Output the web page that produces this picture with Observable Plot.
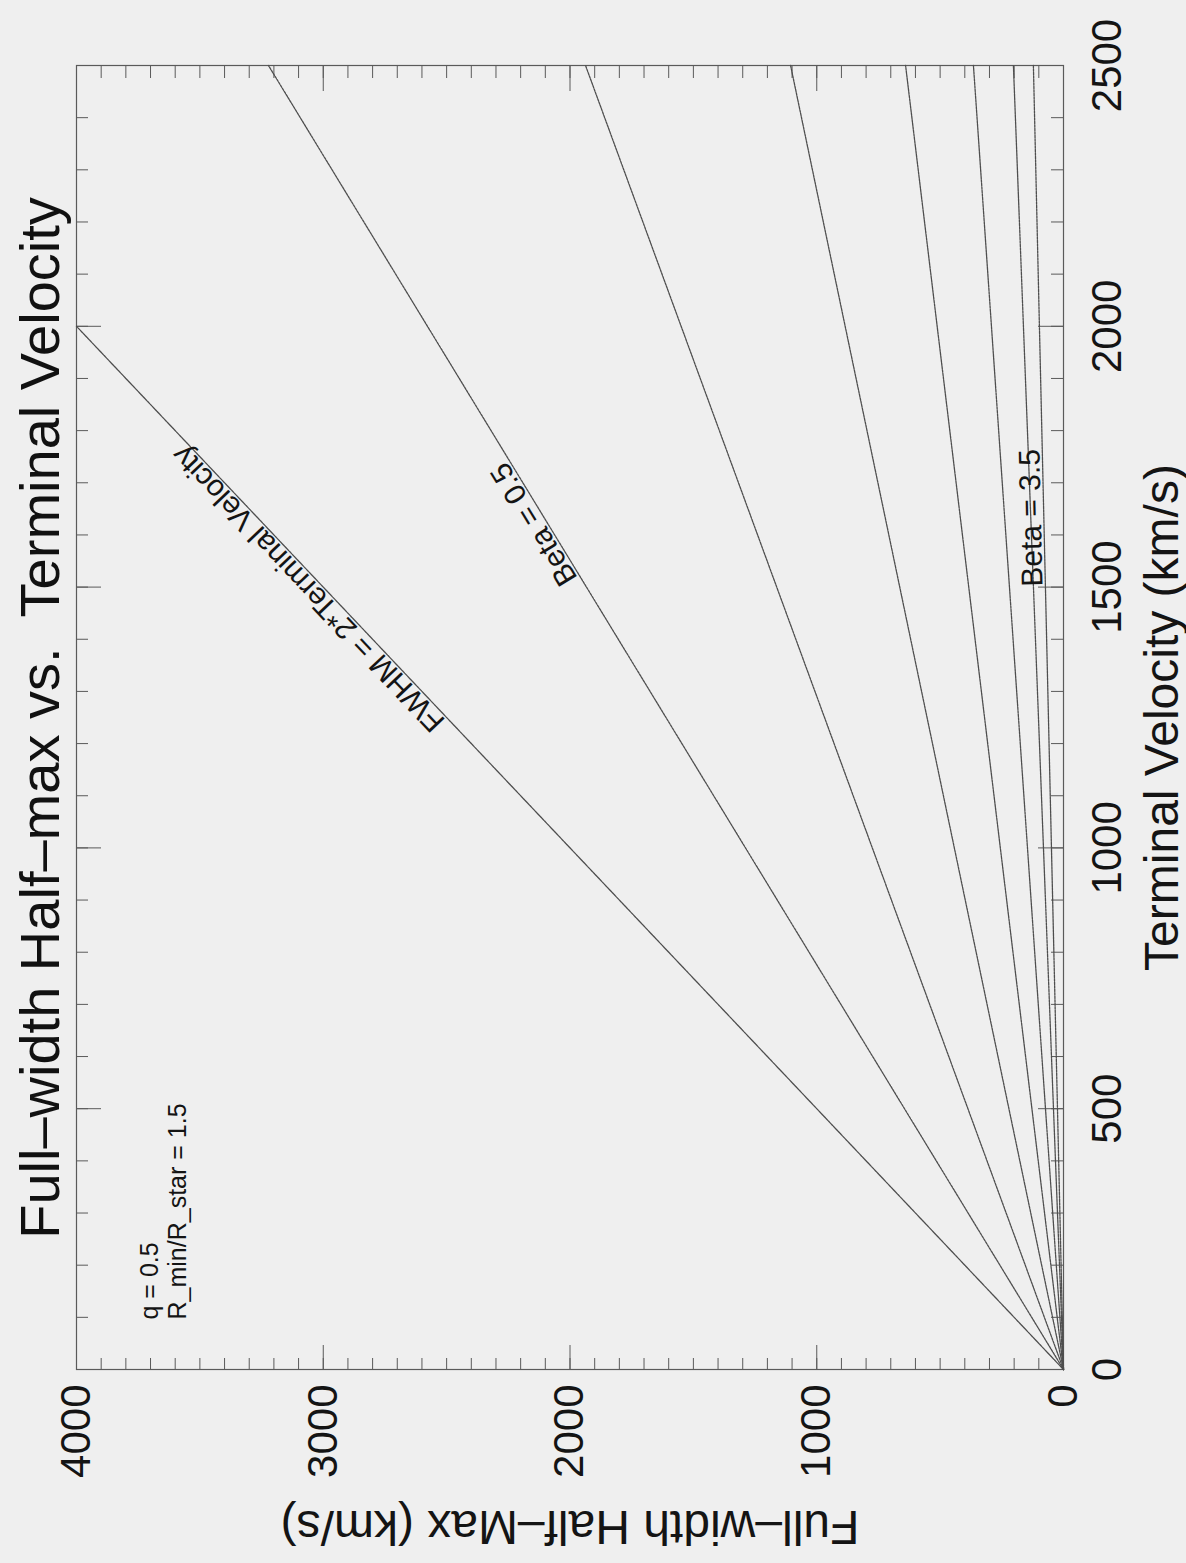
<!DOCTYPE html>
<html><head><meta charset="utf-8">
<script src="https://cdn.jsdelivr.net/npm/d3@7"></script>
<script src="https://cdn.jsdelivr.net/npm/@observablehq/plot@0.6"></script>
<style>
html,body{margin:0;padding:0;background:#efefef;width:1186px;height:1563px;overflow:hidden}
#wrap{position:absolute;left:0;top:0;width:1563px;height:1186px;transform-origin:0 0;transform:translate(0,1563px) rotate(-90deg);}
#title{position:absolute;left:193px;width:1304px;top:12px;text-align:center;font-family:'Liberation Sans',Arial,sans-serif;font-size:56px;line-height:56px;color:#111;white-space:pre}
#chart{position:absolute;left:0;top:0}
</style></head><body>
<div id="wrap"><div id="chart"></div><div id="title"></div></div>
<script>
// ---- data ----
const titleText = "Full\u2013width Half\u2013max vs.  Terminal Velocity";
const xLabel = "Terminal Velocity (km/s)";
const yLabel = "Full\u2013width Half\u2013Max (km/s)";
const velocityTicks = [0, 500, 1000, 1500, 2000, 2500];
const fwhmTicks = [0, 1000, 2000, 3000, 4000];
const velocityEnds = [0, 2500];                      // km/s
const betaValues = [0.5, 1.0, 1.5, 2.0, 2.5, 3.0, 3.5];
const fwhmAtMaxVelocity = [3222, 1937, 1106, 640, 365, 203, 122]; // FWHM at 2500 km/s
const limitVelocity = [0, 2000];
const limitFwhm = [0, 4000];                          // FWHM = 2*Terminal Velocity
const annotationLines = ["q = 0.5", "R_min/R_star = 1.5"];
const lineLabels = ["FWHM = 2*Terminal Velocity", "Beta = 0.5", "Beta = 3.5"];
const lineLabelVelocity = [1510, 1630, 1633];
const lineLabelSeries = ["limit", 0.5, 3.5];

// ---- layout ----
const W = 1563, H = 1186;
const mL = 193, mR = 66, mT = 76, mB = 123;
const pw = W - mL - mR, ph = H - mT - mB;
const font = "'Liberation Sans', Arial, Helvetica, sans-serif";
const ink = "#141414", lineInk = "#4e4e4e";

document.getElementById("title").textContent = titleText;

const betaRows = betaValues.flatMap((b, i) => velocityEnds.map((v, j) => ({beta: b, v, fwhm: j === 0 ? 0 : fwhmAtMaxVelocity[i]})));
const limitRows = limitVelocity.map((v, i) => ({v, fwhm: limitFwhm[i]}));

const slopeOf = s => s === "limit" ? (limitFwhm[1] - limitFwhm[0]) / (limitVelocity[1] - limitVelocity[0])
  : fwhmAtMaxVelocity[betaValues.indexOf(s)] / velocityEnds[1];
const pxPerV = pw / 2500, pxPerF = ph / 4000;
const labelRows = lineLabels.map((t, i) => {
  const s = slopeOf(lineLabelSeries[i]);
  return {text: t, v: lineLabelVelocity[i], fwhm: s * lineLabelVelocity[i],
          rotate: -Math.atan(s * pxPerF / pxPerV) * 180 / Math.PI};
});

const vMinor = d3.range(0, 2501, 100), fMinor = d3.range(0, 4001, 100);
const tickStroke = "#5a5a5a";

const chart = Plot.plot({
  width: W, height: H, marginLeft: mL, marginRight: mR, marginTop: mT, marginBottom: mB,
  style: {background: "transparent", fontFamily: font, fontSize: "42px", color: ink, overflow: "visible"},
  x: {domain: [0, 2500], ticks: velocityTicks, tickSize: 0, tickPadding: 28, tickFormat: d => String(d), label: null},
  y: {domain: [0, 4000], ticks: fwhmTicks, tickSize: 0, tickPadding: 15, tickFormat: d => String(d), label: null},
  marks: [
    Plot.frame({stroke: tickStroke, strokeWidth: 1.2}),
    // minor/major ticks on all four sides, pointing inward
    Plot.tickX(vMinor, {x: d => d, insetTop: ph - 12, stroke: tickStroke}),
    Plot.tickX(velocityTicks, {x: d => d, insetTop: ph - 25, stroke: tickStroke}),
    Plot.tickX(vMinor, {x: d => d, insetBottom: ph - 12, stroke: tickStroke}),
    Plot.tickX(velocityTicks, {x: d => d, insetBottom: ph - 25, stroke: tickStroke}),
    Plot.tickY(fMinor, {y: d => d, insetRight: pw - 12, stroke: tickStroke}),
    Plot.tickY(fwhmTicks, {y: d => d, insetRight: pw - 25, stroke: tickStroke}),
    Plot.tickY(fMinor, {y: d => d, insetLeft: pw - 12, stroke: tickStroke}),
    Plot.tickY(fwhmTicks, {y: d => d, insetLeft: pw - 25, stroke: tickStroke}),
    Plot.line(betaRows, {x: "v", y: "fwhm", z: "beta", stroke: lineInk, strokeWidth: 1.3, strokeDasharray: "2.5 1"}),
    Plot.line(limitRows, {x: "v", y: "fwhm", stroke: lineInk, strokeWidth: 1.3, strokeDasharray: "2.5 1"}),
    Plot.text(labelRows, {x: "v", y: "fwhm", text: "text", rotate: "rotate", lineAnchor: "bottom", dy: -3,
      fontSize: 30, fill: ink, fontFamily: font}),
    Plot.text([annotationLines.join("\n")], {frameAnchor: "top-left", dx: 50, dy: 62, lineAnchor: "top",
      textAnchor: "start", lineHeight: 1.1, fontSize: 25, fill: ink, fontFamily: font}),
    Plot.text([xLabel], {frameAnchor: "bottom", dy: 99, lineAnchor: "middle", textAnchor: "middle", fontSize: 48, fill: ink, fontFamily: font}),
    Plot.text([yLabel], {frameAnchor: "left", dx: -157, rotate: -90, lineAnchor: "middle", textAnchor: "middle", fontSize: 48, fill: ink, fontFamily: font})
  ]
});
document.getElementById("chart").appendChild(chart);
</script></body></html>
